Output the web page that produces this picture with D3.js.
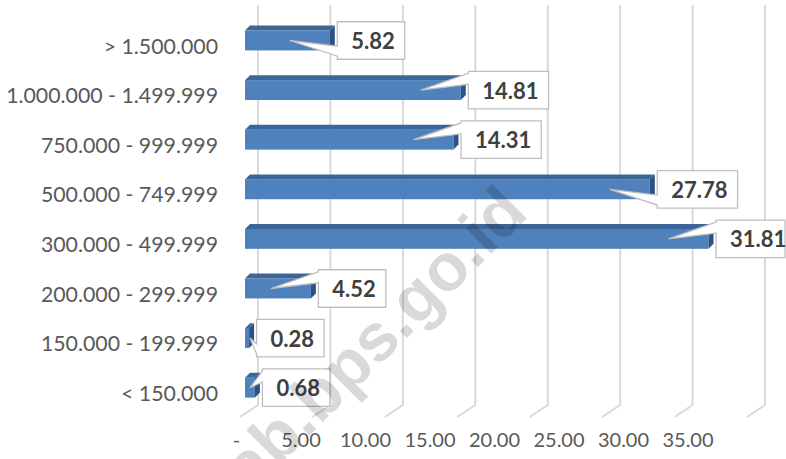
<!DOCTYPE html>
<html>
<head>
<meta charset="utf-8">
<script src="https://cdn.jsdelivr.net/npm/d3@7"></script>
<style>
    body { margin: 0; background: #fff; }
    svg { display: block; }
</style>
</head>
<body>
<div id="chart"></div>
<script>
// categories, bottom to top as in the source sheet
const categories = ["< 150.000", "150.000 - 199.999", "200.000 - 299.999", "300.000 - 499.999",
    "500.000 - 749.999", "750.000 - 999.999", "1.000.000 - 1.499.999", "> 1.500.000"];
const values = [0.68, 0.28, 4.52, 31.81, 27.78, 14.31, 14.81, 5.82];
const ticks = [0, 5, 10, 15, 20, 25, 30, 35];
// which corner of the label box the callout wedge leaves from
const wedgeSide = ["up", "down", "up", "up", "down", "up", "up", "down"];

const width = 786, height = 459;
const depthX = 5, depthY = 5;
const font = "Lato, 'Open Sans', sans-serif";

const data = categories.map((c, i) => ({ cat: c, value: values[i], wedge: wedgeSide[i] }));

const svg = d3.select("#chart")
    .append("svg")
    .attr("width", width)
    .attr("height", height);

// front face of the bars, back wall gridlines and floor labels each have their own scale (3d look)
const xFront = d3.scaleLinear().domain([0, 35]).range([245, 755]);
const xBack = d3.scaleLinear().domain([0, 35]).range([258, 765]);
const xLabel = d3.scaleLinear().domain([0, 35]).range([236.5, 688]);

const y = d3.scaleBand()
    .domain(categories.slice().reverse())
    .range([15.7, 412.5])
    .paddingInner(0.6)
    .paddingOuter(0.3);

// gridlines with the bent floor part
svg.append("g")
    .selectAll("path")
    .data(ticks)
    .enter()
    .append("path")
    .attr("d", d => "M" + xBack(d) + ",5 V405 L" + (xBack(d) - 18) + ",417")
    .attr("fill", "none")
    .attr("stroke", "#d9d9d9")
    .attr("stroke-width", 2);

// bars
const bars = svg.append("g")
    .selectAll("g")
    .data(data)
    .enter()
    .append("g");

bars.append("rect")
    .attr("x", xFront(0))
    .attr("y", d => y(d.cat))
    .attr("width", d => xFront(d.value) - xFront(0))
    .attr("height", y.bandwidth())
    .attr("fill", "#4f81bd");

bars.append("path")
    .attr("d", d => {
        let x0 = xFront(0), x1 = xFront(d.value), t = y(d.cat);
        return "M" + x0 + "," + t + " L" + (x0 + depthX) + "," + (t - depthY) +
            " H" + (x1 + depthX) + " L" + x1 + "," + t + " Z";
    })
    .attr("fill", "#3c6698");

bars.append("path")
    .attr("d", d => {
        let x1 = xFront(d.value), t = y(d.cat), b = t + y.bandwidth();
        return "M" + x1 + "," + t + " L" + (x1 + depthX) + "," + (t - depthY) +
            " V" + (b - depthY) + " L" + x1 + "," + b + " Z";
    })
    .attr("fill", "#2d5182");

// callout data labels
const labels = svg.append("g")
    .selectAll("g")
    .data(data)
    .enter()
    .append("g");

const boxH = 37.5;
labels.each(function (d) {
    let g = d3.select(this);
    let cy = y(d.cat) + y.bandwidth() / 2;
    let left = xFront(d.value) + 7.5;
    let top = cy - boxH / 2, bottom = cy + boxH / 2;

    let txt = g.append("text")
        .attr("x", left + 14)
        .attr("y", cy + 8.5)
        .attr("font-family", font)
        .attr("font-weight", "bold")
        .attr("font-size", 22)
        .attr("fill", "#404040")
        .text(d3.format(".2f")(d.value));
    // box is clipped by the chart area on the right
    let right = Math.min(left + 14 + txt.node().getComputedTextLength() + 10, width - 1);

    let tipX = Math.max(xFront(d.value) - 40, xFront(0) + 5);
    let b0, b1;
    if (d.wedge == "up") { b0 = top + 2; b1 = top + 13; }
    else { b0 = bottom - 13; b1 = bottom - 3; }

    g.insert("path", "text")
        .attr("d", "M" + left + "," + top + " H" + right + " V" + bottom + " H" + left +
            " V" + b1 + " L" + tipX + "," + cy + " L" + left + "," + b0 + " Z")
        .attr("fill", "#fff")
        .attr("stroke", "#bfbfbf")
        .attr("stroke-width", 1.3);
});

// value axis on the floor
svg.append("g")
    .selectAll("text")
    .data(ticks)
    .enter()
    .append("text")
    .attr("x", d => xLabel(d))
    .attr("y", 447)
    .attr("text-anchor", "middle")
    .attr("font-family", font)
    .attr("font-size", 20)
    .attr("fill", "#595959")
    .text(d => d == 0 ? "-" : d3.format(".2f")(d));

// category labels
svg.append("g")
    .selectAll("text")
    .data(categories)
    .enter()
    .append("text")
    .attr("x", 218)
    .attr("y", d => y(d) + y.bandwidth() / 2 + 13)
    .attr("text-anchor", "end")
    .attr("font-family", font)
    .attr("font-size", 21.3)
    .attr("fill", "#595959")
    .text(d => d);

// watermark
svg.append("text")
    .attr("transform", "translate(530,215) rotate(-45)")
    .attr("text-anchor", "end")
    .attr("font-family", "'Liberation Sans', Arial, sans-serif")
    .attr("font-weight", "bold")
    .attr("font-size", 67)
    .attr("fill", "#000")
    .attr("fill-opacity", 0.15)
    .text("kab.bps.go.id");
</script>
</body>
</html>
